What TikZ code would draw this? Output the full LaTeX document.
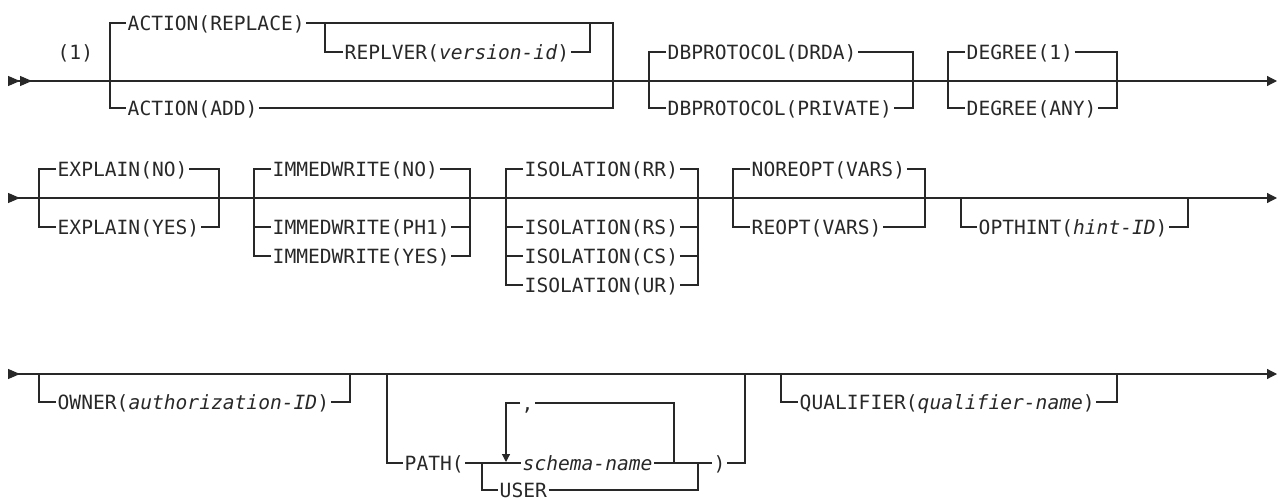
\documentclass[tikz,border=0pt]{standalone}
\usepackage{fontspec}
\usepackage{xcolor}
\usepackage{tikz}
\usetikzlibrary{arrows.meta}
\newfontfamily\railmono{DejaVu Sans Mono}
\definecolor{railgray}{RGB}{40,40,40}

\begin{document}
\begin{tikzpicture}[x=1pt, y=-1pt,
  rail/.style  = {draw=railgray, line width=1.2pt},
  kw/.style    = {font=\railmono\fontsize{19.6pt}{21pt}\selectfont,
                  text=railgray, anchor=west, inner xsep=1.5pt,
                  inner ysep=0pt, text height=14.3pt, text depth=0pt},
  mainrail/.style  = {rail, {Triangle[reversed,length=12pt,width=10pt]}-{Triangle[length=10pt,width=10pt]}},
  mainrailb/.style = {rail, {Triangle[reversed,length=12pt,width=10pt]Triangle[reversed,length=12pt,width=10pt]}-{Triangle[length=10pt,width=10pt]}},
  rarr/.style  = {rail, -{Triangle[length=8pt,width=8pt]}},
]
\useasboundingbox (0,0) rectangle (1278,498);

%% ── row 1 ───────────────────────────────────────────────────────────────
\coordinate (r1s) at (8,81);
\coordinate (r1e) at (1277,81);
\draw[mainrailb] (r1s) -- (r1e);

\node[kw] (fn1)     at (56,52)   {(1)};
\node[kw] (replace) at (126,23)  {ACTION(REPLACE)};
\node[kw] (replver) at (343,52)  {REPLVER(\textit{version-id})};
\node[kw] (add)     at (126,108) {ACTION(ADD)};

\draw[rail] (replace.west) -| (110,108) -- (add.west);
\draw[rail] (replace.east) -| (613,108) -- (add.east);
\draw[rail] (325,23) |- (replver.west);
\draw[rail] (replver.east) -| (590,23);

\node[kw] (drda)    at (666,52)  {DBPROTOCOL(DRDA)};
\node[kw] (private) at (666,108) {DBPROTOCOL(PRIVATE)};
\draw[rail] (drda.west) -| (649,108) -- (private.west);
\draw[rail] (drda.east) -| (913,108) -- (private.east);

\node[kw] (deg1)   at (965,52)  {DEGREE(1)};
\node[kw] (degany) at (965,108) {DEGREE(ANY)};
\draw[rail] (deg1.west) -| (948,108) -- (degany.west);
\draw[rail] (deg1.east) -| (1117,108) -- (degany.east);

%% ── row 2 ───────────────────────────────────────────────────────────────
\coordinate (r2s) at (8,198);
\coordinate (r2e) at (1277,198);
\draw[mainrail] (r2s) -- (r2e);

\node[kw] (expno)  at (56,169) {EXPLAIN(NO)};
\node[kw] (expyes) at (56,227) {EXPLAIN(YES)};
\draw[rail] (expno.west) -| (39,227) -- (expyes.west);
\draw[rail] (expno.east) -| (219,227) -- (expyes.east);

\node[kw] (imno)  at (271,169) {IMMEDWRITE(NO)};
\node[kw] (imph1) at (271,227) {IMMEDWRITE(PH1)};
\node[kw] (imyes) at (271,256) {IMMEDWRITE(YES)};
\draw[rail] (imno.west) -| (254,256) -- (imyes.west);
\draw[rail] (imno.east) -| (470,256) -- (imyes.east);
\draw[rail] (254,227) -- (imph1.west);
\draw[rail] (imph1.east) -- (470,227);

\node[kw] (isrr) at (523,169) {ISOLATION(RR)};
\node[kw] (isrs) at (523,227) {ISOLATION(RS)};
\node[kw] (iscs) at (523,256) {ISOLATION(CS)};
\node[kw] (isur) at (523,285) {ISOLATION(UR)};
\draw[rail] (isrr.west) -| (506,285) -- (isur.west);
\draw[rail] (isrr.east) -| (698,285) -- (isur.east);
\foreach \n in {isrs,iscs} {
  \draw[rail] (\n.west -| 506,0) -- (\n.west);
  \draw[rail] (\n.east) -- (\n.east -| 698,0);
}

\node[kw] (noreopt) at (750,169) {NOREOPT(VARS)};
\node[kw] (reopt)   at (750,227) {REOPT(VARS)};
\draw[rail] (noreopt.west) -| (733,227) -- (reopt.west);
\draw[rail] (noreopt.east) -| (925,227) -- (reopt.east);

\node[kw] (opthint) at (977,227) {OPTHINT(\textit{hint-ID})};
\draw[rail] (961,198) |- (opthint.west);
\draw[rail] (opthint.east) -| (1188,198);

%% ── row 3 ───────────────────────────────────────────────────────────────
\coordinate (r3s) at (8,374);
\coordinate (r3e) at (1277,374);
\draw[mainrail] (r3s) -- (r3e);

\node[kw] (owner) at (56,402) {OWNER(\textit{authorization-ID})};
\draw[rail] (39,374) |- (owner.west);
\draw[rail] (owner.east) -| (350,374);

\node[kw] (path)   at (403,463) {PATH(};
\node[kw] (schema) at (521,463) {\textit{schema-name}};
\node[kw] (user)   at (498,490) {USER};
\node[kw] (comma)  at (520,403) {,};
\node[kw] (close)  at (712,463) {)};

\draw[rail] (387,374) |- (path.west);
\draw[rail] (path.east) -- (schema.west);
\draw[rail] (schema.east) -- (close.west);
\draw[rail] (482,463) |- (user.west);
\draw[rail] (user.east) -| (698,463);
\draw[rail] (674,463) |- (comma.east);
\draw[rarr] (comma.west) -| (506,462);
\draw[rail] (close.east) -| (745,374);

\node[kw] (qual) at (798,402) {QUALIFIER(\textit{qualifier-name})};
\draw[rail] (781,374) |- (qual.west);
\draw[rail] (qual.east) -| (1117,374);

\end{tikzpicture}
\end{document}
